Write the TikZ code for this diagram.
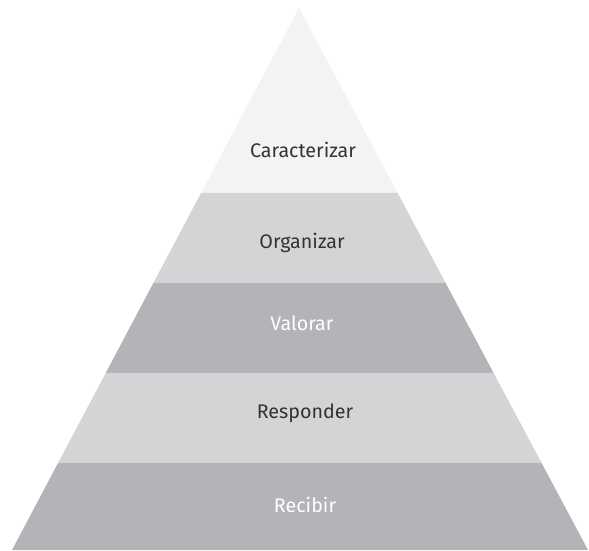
\documentclass[tikz,border=0pt]{standalone}
\usepackage{fontspec}
\setmainfont{Fira Sans}
\usetikzlibrary{
  positioning,
  calc
}
\definecolor{paleGray}{HTML}{F2F3F2}
\definecolor{lightGray}{HTML}{D3D4D6}
\definecolor{midGray}{HTML}{B3B4B7}
\definecolor{inkGray}{HTML}{333333}
\tikzset{
  level/.style={
    draw=none,
    inner sep=0pt
  },
  label text/.style={
    font=\fontsize{14}{17}\selectfont,
    inner sep=0pt,
    anchor=center
  }
}

\begin{document}
\begin{tikzpicture}[
      x=0.025cm,
      y=-0.025cm
      ]
      \useasboundingbox (0,0) rectangle (589,550);

      \coordinate (apex) at (299,8);
      \coordinate (baseL) at (12,550);
      \coordinate (baseR) at (588,550);

      % top of the pyramid
      \fill[paleGray] (apex) -- ($(apex)!0.3413!(baseL)$) -- ($(apex)!0.3413!(baseR)$) -- cycle;

      % the four lower bands
      \foreach \ta/\tb/\col in {0.3413/0.5074/lightGray, 0.5074/0.6734/midGray,
        0.6734/0.8395/lightGray, 0.8395/1/midGray}{
        \fill[\col] ($(apex)!\ta!(baseL)$) -- ($(apex)!\tb!(baseL)$)
          -- ($(apex)!\tb!(baseR)$) -- ($(apex)!\ta!(baseR)$) -- cycle;
      }

      \node[label text, text=inkGray] (caracterizar) at (303,150) {Caracterizar};
      \node[label text, text=inkGray] (organizar) at (302,243) {Organizar};
      \node[label text, text=white] (valorar) at (302,323) {Valorar};
      \node[label text, text=inkGray] (responder) at (305,413) {Responder};
      \node[label text, text=white] (recibir) at (305,505) {Recibir};
    \end{tikzpicture}
\end{document}
